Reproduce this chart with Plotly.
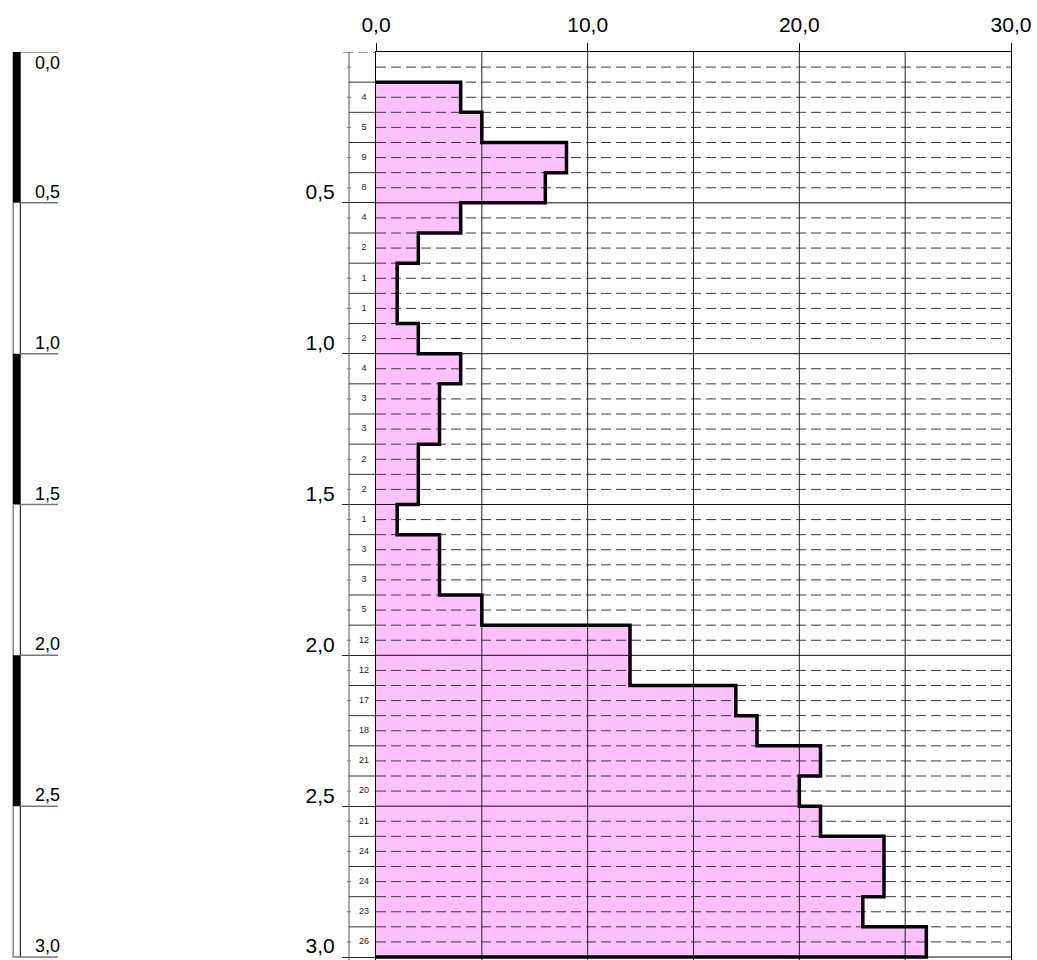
import plotly.graph_objects as go

# ---------------- data ----------------
depth_top = [0.1, 0.2, 0.3, 0.4, 0.5, 0.6, 0.7, 0.8, 0.9, 1.0,
             1.1, 1.2, 1.3, 1.4, 1.5, 1.6, 1.7, 1.8, 1.9, 2.0,
             2.1, 2.2, 2.3, 2.4, 2.5, 2.6, 2.7, 2.8, 2.9]
blows = [4, 5, 9, 8, 4, 2, 1, 1, 2, 4,
         3, 3, 2, 2, 1, 3, 3, 5, 12, 12,
         17, 18, 21, 20, 21, 24, 24, 23, 26]
step = 0.1
x_tick_vals = [0, 10, 20, 30]
x_tick_text = ["0,0", "10,0", "20,0", "30,0"]
y_tick_vals = [0.5, 1.0, 1.5, 2.0, 2.5, 3.0]
y_tick_text = ["0,5", "1,0", "1,5", "2,0", "2,5", "3,0"]
scale_marks = [0.0, 0.5, 1.0, 1.5, 2.0, 2.5, 3.0]
scale_text = ["0,0", "0,5", "1,0", "1,5", "2,0", "2,5", "3,0"]
x_grid = [5, 10, 15, 20, 25]
x_max = 30
depth_max = 3.0

# ---------------- layout constants ----------------
W, H = 1037, 960
PX_L, PX_R = 376, 1011           # main plot x pixels
PX_T = 52                        # depth 0 pixel
PX_B = 957                       # depth 3.0 pixel
PX_PER_M = (PX_B - PX_T) / depth_max
y_bottom = depth_max + (H - PX_B) / PX_PER_M
FONT = "Liberation Sans, Arial, sans-serif"
PINK = "#ffc0ff"
DASH = "10px,5px"

fig = go.Figure()

# step path built from data
sx, sy = [0], [depth_top[0]]
for d, v in zip(depth_top, blows):
    sx += [v, v]
    sy += [round(d, 3), round(d + step, 3)]
sx.append(0)
sy.append(round(depth_top[-1] + step, 3))

fig.add_trace(go.Scatter(x=sx, y=sy, mode="lines", fill="toself",
                         fillcolor=PINK, line=dict(width=0),
                         hoverinfo="skip", showlegend=False))

# dashed horizontal grid every 0.05 m
gx, gy = [], []
n = int(round(depth_max / 0.05))
for k in range(1, n):
    if k % 10 == 0:
        continue
    d = k * 0.05
    gx += [0, x_max, None]
    gy += [d, d, None]
fig.add_trace(go.Scatter(x=gx, y=gy, mode="lines",
                         line=dict(color="#3a3a3a", width=1, dash=DASH),
                         hoverinfo="skip", showlegend=False))

# vertical grid lines
vx, vy = [], []
for g in x_grid:
    vx += [g, g, None]
    vy += [0, y_bottom, None]
fig.add_trace(go.Scatter(x=vx, y=vy, mode="lines",
                         line=dict(color="#222222", width=1),
                         hoverinfo="skip", showlegend=False))

# solid horizontal lines at 0.5 m
hx, hy = [], []
for d in y_tick_vals:
    hx += [0, x_max, None]
    hy += [d, d, None]
fig.add_trace(go.Scatter(x=hx, y=hy, mode="lines",
                         line=dict(color="#111111", width=1),
                         hoverinfo="skip", showlegend=False))

# step outline
fig.add_trace(go.Scatter(x=sx, y=sy, mode="lines",
                         line=dict(color="black", width=3.5),
                         hoverinfo="skip", showlegend=False))

# ---------------- left area (x2 in pixel units) ----------------
COL_L, COL_R = 349, 376
fig.add_trace(go.Scatter(x=[COL_L, COL_L], y=[0, y_bottom], xaxis="x2", mode="lines",
                         line=dict(color="#555555", width=1),
                         hoverinfo="skip", showlegend=False))
rx, ry = [], []
for k in range(1, int(round(depth_max / step)) + 1):
    d = round(k * step, 3)
    if abs(d / 0.5 - round(d / 0.5)) < 1e-9:
        continue
    rx += [COL_L, COL_R, None]
    ry += [d, d, None]
fig.add_trace(go.Scatter(x=rx, y=ry, xaxis="x2", mode="lines",
                         line=dict(color="#333333", width=1),
                         hoverinfo="skip", showlegend=False))
tx, ty = [], []
for k in range(int(round(depth_max / step))):
    d = round(k * step + 0.05, 3)
    tx += [COL_L - 2, COL_L + 2, None]
    ty += [d, d, None]
fig.add_trace(go.Scatter(x=tx, y=ty, xaxis="x2", mode="lines",
                         line=dict(color="#777777", width=1),
                         hoverinfo="skip", showlegend=False))
fig.add_trace(go.Scatter(x=[343, COL_R], y=[0, 0], xaxis="x2", mode="lines",
                         line=dict(color="#444444", width=1, dash=DASH),
                         hoverinfo="skip", showlegend=False))
fig.add_trace(go.Scatter(x=[364] * len(blows),
                         y=[round(d + step / 2, 3) for d in depth_top],
                         text=[str(b) for b in blows], xaxis="x2",
                         mode="text", textposition="middle center",
                         textfont=dict(family=FONT, size=9, color="#222222"),
                         hoverinfo="skip", showlegend=False))

# scale bar
BAR_L, BAR_R = 12.7, 20.7
for i in range(len(scale_marks) - 1):
    a, b = scale_marks[i], scale_marks[i + 1]
    if i % 2 == 0:
        fig.add_trace(go.Scatter(x=[BAR_L, BAR_R, BAR_R, BAR_L], y=[a, a, b, b],
                                 xaxis="x2", mode="lines", fill="toself",
                                 fillcolor="black", line=dict(width=0),
                                 hoverinfo="skip", showlegend=False))
    else:
        fig.add_trace(go.Scatter(x=[13.2, 13.2], y=[a, b], xaxis="x2", mode="lines",
                                 line=dict(color="#888888", width=1.5),
                                 hoverinfo="skip", showlegend=False))
        fig.add_trace(go.Scatter(x=[20.3, 20.3], y=[a, b], xaxis="x2", mode="lines",
                                 line=dict(color="black", width=1),
                                 hoverinfo="skip", showlegend=False))
ux, uy = [], []
for i, d in enumerate(scale_marks):
    left = BAR_L if i == len(scale_marks) - 1 else BAR_R
    ux += [left, 58, None]
    uy += [d, d, None]
fig.add_trace(go.Scatter(x=ux, y=uy, xaxis="x2", mode="lines",
                         line=dict(color="#777777", width=1.5),
                         hoverinfo="skip", showlegend=False))

annotations = []
for i, (d, t) in enumerate(zip(scale_marks, scale_text)):
    annotations.append(dict(x=34, y=d, xref="x2", yref="y", text=t,
                            showarrow=False, xanchor="left",
                            yanchor="top" if i == 0 else "bottom",
                            font=dict(family=FONT, size=18, color="black"),
                            borderpad=0))

fig.update_layout(
    template="none",
    width=W, height=H,
    margin=dict(l=0, r=0, t=0, b=0, pad=0, autoexpand=False),
    paper_bgcolor="white", plot_bgcolor="white",
    font=dict(family=FONT, color="black"),
    showlegend=False,
    hovermode=False,
    annotations=annotations,
    xaxis=dict(domain=[PX_L / W, PX_R / W], range=[0, x_max], side="top",
               tickmode="array", tickvals=x_tick_vals, ticktext=x_tick_text,
               ticks="outside", ticklen=8, tickcolor="black", tickwidth=1,
               showline=True, linecolor="black", linewidth=1,
               showgrid=False, zeroline=False, anchor="y", automargin=False,
               tickfont=dict(family=FONT, size=21, color="black"),
               ticklabelstandoff=3),
    xaxis2=dict(domain=[0, PX_L / W], range=[0, PX_L], visible=False,
                anchor="y", showgrid=False, zeroline=False, automargin=False),
    yaxis=dict(domain=[0, (H - PX_T) / H], range=[y_bottom, 0],
               tickmode="array", tickvals=y_tick_vals, ticktext=y_tick_text,
               ticks="outside", ticklen=33, tickcolor="#222222", tickwidth=1,
               showline=True, linecolor="black", linewidth=1, mirror=True,
               showgrid=False, zeroline=False, anchor="x", automargin=False,
               tickfont=dict(family=FONT, size=21, color="black"),
               ticklabelshift=11, ticklabelstandoff=3),
)

fig.write_html(
    "out.html",
    config={"displayModeBar": False, "staticPlot": True},
    post_script="document.body.style.margin='0px';"
                "document.documentElement.style.overflow='hidden';",
)
